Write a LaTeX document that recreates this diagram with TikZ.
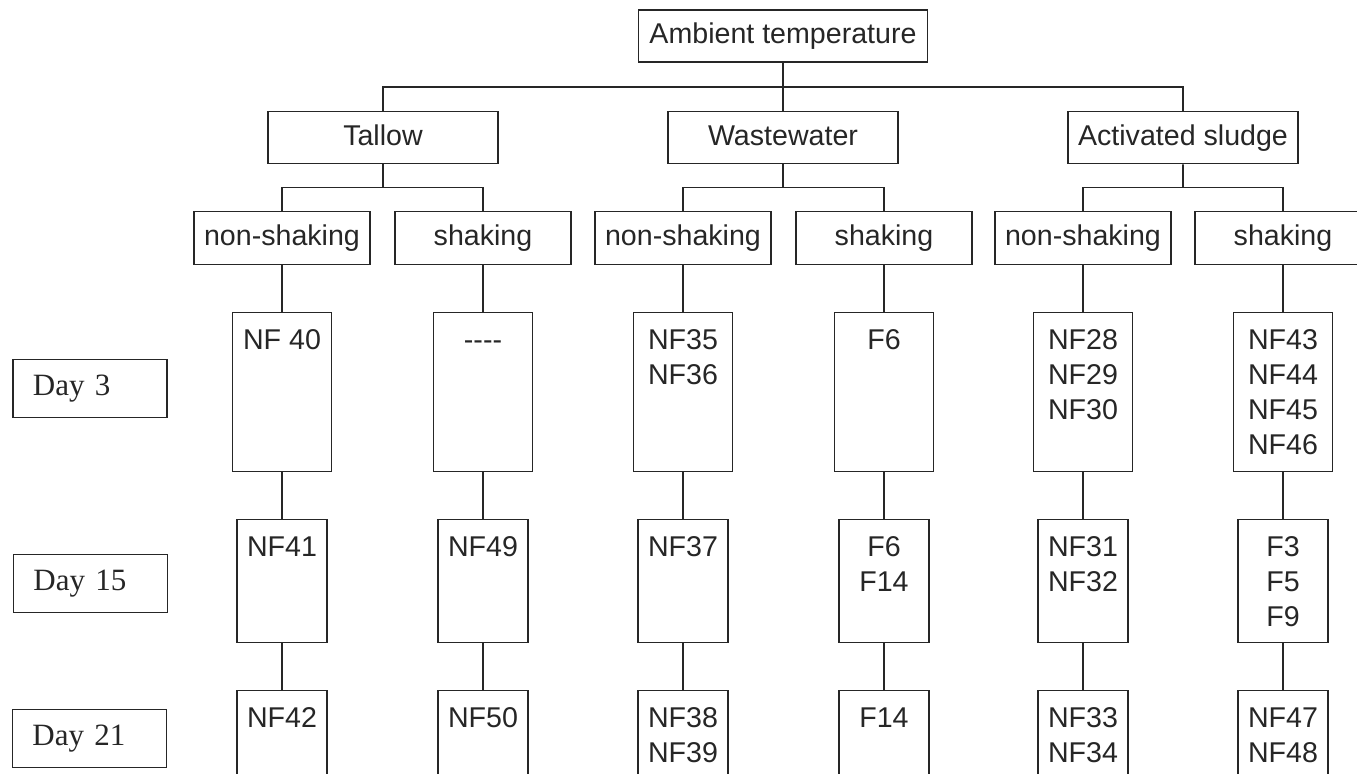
\documentclass[tikz,border=0pt]{standalone}
\usepackage{fontspec}
\setmainfont{Liberation Sans}
\newfontfamily\dayfont{Liberation Serif}
\usetikzlibrary{calc,positioning}

\begin{document}
\begin{tikzpicture}[
    x = 0.5pt, y = -0.5pt, % one unit = one pixel of the scan
    node distance = 23.2pt, % gap between rows
    line width = 0.8pt, % line style
    color = black!85
    ]

    \tikzset{
    every node/.style = {font=\fontsize{14.3}{17.5}\selectfont, inner sep=0pt},
    boxtext/.style = {text height=10.2pt, text depth=2.5pt},
    headbox/.style = {draw, boxtext, minimum width=144.5pt, minimum height=26pt},
    midbox/.style = {draw, boxtext, minimum width=115pt, minimum height=26pt},
    subbox/.style = {draw, boxtext, minimum width=88pt, minimum height=26.5pt},
    earlycell/.style = {draw, minimum width=49.5pt, minimum height=79.5pt},
    latecell/.style = {draw, minimum width=45pt, minimum height=61.5pt},
    entries/.style = {anchor=north, yshift=-8.5pt, align=center},
    daybox/.style = {draw, font=\dayfont\fontsize{15.5}{18}\selectfont,
      text width=57pt, align=left, inner xsep=10pt, minimum height=29pt}
    }
    \useasboundingbox (0,0) rectangle (1357,774);
    \clip (0,0) rectangle (1357,774);

    \node[headbox] (amb) at (783,36) {Ambient temperature};
    \node[midbox] (was) [below=24pt of amb] {Wastewater};
    \node[midbox] (tal) [left=84.2pt of was] {Tallow};
    \node[midbox] (slu) [right=84.2pt of was] {Activated sludge};

    \node[subbox] (tns) [below=of tal, xshift=-50.5pt] {non-shaking};
    \node[subbox] (tsh) [below=of tal, xshift=50pt] {shaking};
    \node[subbox] (wns) [below=of was, xshift=-50pt] {non-shaking};
    \node[subbox] (wsh) [below=of was, xshift=50.5pt] {shaking};
    \node[subbox] (sns) [below=of slu, xshift=-50pt] {non-shaking};
    \node[subbox] (ssh) [below=of slu, xshift=50pt] {shaking};

    % day 3
    \node[earlycell, label={[entries]north:NF 40}] (tns3) [below=of tns] {};
    \node[earlycell, label={[entries]north:{\vphantom{N}-{}-{}-{}-}}] (tsh3) [below=of tsh] {};
    \node[earlycell, label={[entries]north:{NF35\\NF36}}] (wns3) [below=of wns] {};
    \node[earlycell, label={[entries]north:F6}] (wsh3) [below=of wsh] {};
    \node[earlycell, label={[entries]north:{NF28\\NF29\\NF30}}] (sns3) [below=of sns] {};
    \node[earlycell, label={[entries]north:{NF43\\NF44\\NF45\\NF46}}] (ssh3) [below=of ssh] {};

    % day 15
    \node[latecell, label={[entries]north:NF41}] (tns15) [below=of tns3] {};
    \node[latecell, label={[entries]north:NF49}] (tsh15) [below=of tsh3] {};
    \node[latecell, label={[entries]north:NF37}] (wns15) [below=of wns3] {};
    \node[latecell, label={[entries]north:{F6\\F14}}] (wsh15) [below=of wsh3] {};
    \node[latecell, label={[entries]north:{NF31\\NF32}}] (sns15) [below=of sns3] {};
    \node[latecell, label={[entries]north:{F3\\F5\\F9}}] (ssh15) [below=of ssh3] {};

    % day 21
    \node[latecell, label={[entries]north:NF42}] (tns21) [below=of tns15] {};
    \node[latecell, label={[entries]north:NF50}] (tsh21) [below=of tsh15] {};
    \node[latecell, label={[entries]north:{NF38\\NF39}}] (wns21) [below=of wns15] {};
    \node[latecell, label={[entries]north:F14}] (wsh21) [below=of wsh15] {};
    \node[latecell, label={[entries]north:{NF33\\NF34}}] (sns21) [below=of sns15] {};
    \node[latecell, label={[entries]north:{NF47\\NF48}}] (ssh21) [below=of ssh15] {};

    \node[daybox] (d3) [below left=23.5pt and 32pt of tns3.north west] {Day 3};
    \node[daybox] (d15) [below left=17.5pt and 34pt of tns15.north west] {Day 15};
    \node[daybox] (d21) [below left=9.5pt and 34.5pt of tns21.north west] {Day 21};

    % tree lines
    \coordinate (topbus) at ($(amb.south)!.5!(was.north)$);
    \draw (amb) -- (was);
    \draw (tal.north) |- (topbus) -| (slu.north);

    \coordinate (talbus) at ($(tal.south)!.5!(tal.south |- tns.north)$);
    \coordinate (wasbus) at ($(was.south)!.5!(was.south |- wns.north)$);
    \coordinate (slubus) at ($(slu.south)!.5!(slu.south |- sns.north)$);
    \draw (tal) -- (talbus);
    \draw (was) -- (wasbus);
    \draw (slu) -- (slubus);
    \draw (tns.north) |- (talbus) -| (tsh.north);
    \draw (wns.north) |- (wasbus) -| (wsh.north);
    \draw (sns.north) |- (slubus) -| (ssh.north);

    \draw (tns) -- (tns3) -- (tns15) -- (tns21);
    \draw (tsh) -- (tsh3) -- (tsh15) -- (tsh21);
    \draw (wns) -- (wns3) -- (wns15) -- (wns21);
    \draw (wsh) -- (wsh3) -- (wsh15) -- (wsh21);
    \draw (sns) -- (sns3) -- (sns15) -- (sns21);
    \draw (ssh) -- (ssh3) -- (ssh15) -- (ssh21);
\end{tikzpicture}
\end{document}
